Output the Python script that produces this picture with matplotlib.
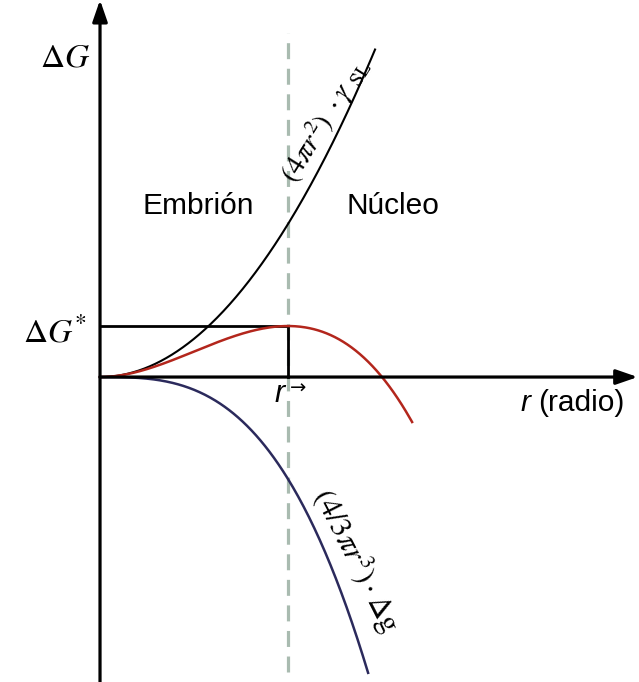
import matplotlib.pyplot as plt
import numpy as np

plt.rcParams["mathtext.fontset"] = "stix"

# free energy terms, in units where the critical radius is r* = 1
gamma_sl = 1 / (4 * np.pi)      # surface energy per unit area
delta_g = 2 * gamma_sl          # volume free energy per unit volume
r_end = {"surface": 1.463, "volume": 1.426, "total": 1.66}
r_crit = 2 * gamma_sl / delta_g
dG_crit = 16 * np.pi * gamma_sl**3 / (3 * delta_g**2)

labels = {
    "embryo": "Embrión",
    "nucleus": "Núcleo",
    "xaxis": "(radio)",
}

def surface(r):
    return 4 * np.pi * r**2 * gamma_sl

def volume(r):
    return -(4 / 3) * np.pi * r**3 * delta_g

fig = plt.figure(figsize=(6.39, 6.82), dpi=100)
ax = fig.add_axes([0, 0, 1, 1])
ax.set_xlim(-0.532, 2.867)
ax.set_ylim(-1.993, 2.464)
ax.axis("off")

# axes with arrow heads
ax.annotate("", xy=(0, 2.464), xytext=(0, -1.993),
            arrowprops=dict(arrowstyle="-|>,head_length=1.3,head_width=0.45",
                            lw=2.3, color="black", shrinkA=0, shrinkB=0))
ax.annotate("", xy=(2.86, 0), xytext=(0, 0),
            arrowprops=dict(arrowstyle="-|>,head_length=1.3,head_width=0.45",
                            lw=2.3, color="black", shrinkA=0, shrinkB=0))

# critical radius marker
ax.plot([r_crit, r_crit], [-1.93, 2.25], color="#a9bbb0", lw=2.3,
        dashes=(5, 3), zorder=1)
ax.plot([0, r_crit, r_crit], [dG_crit, dG_crit, 0], color="black", lw=2.0)

rs = np.linspace(0, r_end["surface"], 300)
ax.plot(rs, surface(rs), color="black", lw=1.5)
rv = np.linspace(0, r_end["volume"], 300)
ax.plot(rv, volume(rv), color="#2b2a5c", lw=1.8)
rt = np.linspace(0, r_end["total"], 300)
ax.plot(rt, surface(rt) + volume(rt), color="#b3261c", lw=1.8)

ax.text(-0.05, 2.09, r"$\Delta G$", fontsize=24, ha="right", va="center")
ax.text(-0.07, 0.29, r"$\Delta G^{*}$", fontsize=24, ha="right", va="center")
ax.text(0.52, 1.12, labels["embryo"], fontsize=21.5, family="Liberation Sans",
        ha="center", va="center")
ax.text(1.56, 1.12, labels["nucleus"], fontsize=21.5, family="Liberation Sans",
        ha="center", va="center")
ax.text(2.33, -0.17, labels["xaxis"], fontsize=21.5, family="Liberation Sans",
        ha="left", va="center")
ax.text(2.29, -0.17, "r", fontsize=21.5, family="Liberation Sans",
        style="italic", ha="right", va="center")
ax.text(0.98, -0.11, "r", fontsize=22, family="Liberation Sans",
        style="italic", ha="right", va="center")
ax.text(1.01, -0.07, "→", fontsize=14, family="DejaVu Sans",
        ha="left", va="center")

ax.text(1.2, 1.68, r"$(4\pi r^2)\ \cdot\gamma\ _{\mathrm{SL}}$", fontsize=21,
        rotation=58, ha="center", va="center", rotation_mode="anchor")
ax.text(1.36, -1.2, r"$(4/3\pi r^3)\cdot\mathrm{\Delta g}$", fontsize=22,
        rotation=-63, ha="center", va="center", rotation_mode="anchor")

fig.savefig("out.png", dpi=100)
